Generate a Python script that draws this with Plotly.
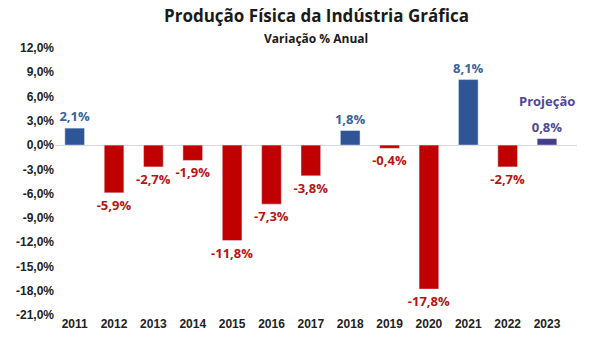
import plotly.graph_objects as go

years = ["2011", "2012", "2013", "2014", "2015", "2016", "2017", "2018",
         "2019", "2020", "2021", "2022", "2023"]
values = [2.1, -5.9, -2.7, -1.9, -11.8, -7.3, -3.8, 1.8, -0.4, -17.8, 8.1, -2.7, 0.8]
y_ticks = [12, 9, 6, 3, 0, -3, -6, -9, -12, -15, -18, -21]

BLUE = "#2F5597"
BLUE_TXT = "#3A62A0"
RED = "#C00000"
RED_TXT = "#B81414"
PURPLE = "#463C8C"
PURPLE_TXT = "#4F4795"


def fmt(v):
    return f"{v:.1f}".replace(".", ",") + "%"


bar_colors = []
text_colors = []
for i, v in enumerate(values):
    if years[i] == "2023":
        bar_colors.append(PURPLE); text_colors.append(PURPLE_TXT)
    elif v >= 0:
        bar_colors.append(BLUE); text_colors.append(BLUE_TXT)
    else:
        bar_colors.append(RED); text_colors.append(RED_TXT)

fig = go.Figure(go.Bar(
    x=years, y=values,
    marker=dict(color=bar_colors),
    text=["<b>" + fmt(v) + "</b>" for v in values],
    textposition="outside",
    constraintext="none",
    cliponaxis=False,
    textfont=dict(family="Open Sans", size=13, color=text_colors),
))

# projection label above the last bar (category index)
fig.add_annotation(x=len(years) - 1, y=values[-1], xref="x", yref="y", text="<b>Projeção</b>",
                   showarrow=False, yshift=38,
                   font=dict(family="Open Sans", size=13, color=PURPLE_TXT))

fig.add_annotation(xref="paper", yref="paper", x=0.5, y=1.0, yanchor="bottom", yshift=19,
                   xanchor="center", text="<b>Produção Física da Indústria Gráfica</b>", showarrow=False,
                   font=dict(family="Open Sans", size=17, color="#1a1a1a"))
fig.add_annotation(xref="paper", yref="paper", x=0.5, y=1.0, yanchor="bottom", yshift=-1,
                   xanchor="center", text="<b>Variação % Anual</b>", showarrow=False,
                   font=dict(family="Open Sans", size=12, color="#1a1a1a"))

fig.update_layout(
    width=605, height=354,
    margin=dict(l=55, r=28, t=48, b=39),
    paper_bgcolor="white", plot_bgcolor="white",
    bargap=0.5,
    showlegend=False,
    xaxis=dict(type="category", showgrid=False, showline=False, ticks="",
               tickmode="array", tickvals=years, ticktext=["<b>" + y + "</b>" for y in years],
               tickfont=dict(family="Liberation Sans", size=12, color="#222")),
    yaxis=dict(range=[-21, 12], tickmode="array", tickvals=y_ticks,
               ticktext=["<b>" + fmt(t) + "</b>" for t in y_ticks], showgrid=False,
               zeroline=True, zerolinecolor="#d9d9d9", zerolinewidth=1,
               tickfont=dict(family="Liberation Sans", size=12, color="#222")),
)

fig.write_html("out.html")
